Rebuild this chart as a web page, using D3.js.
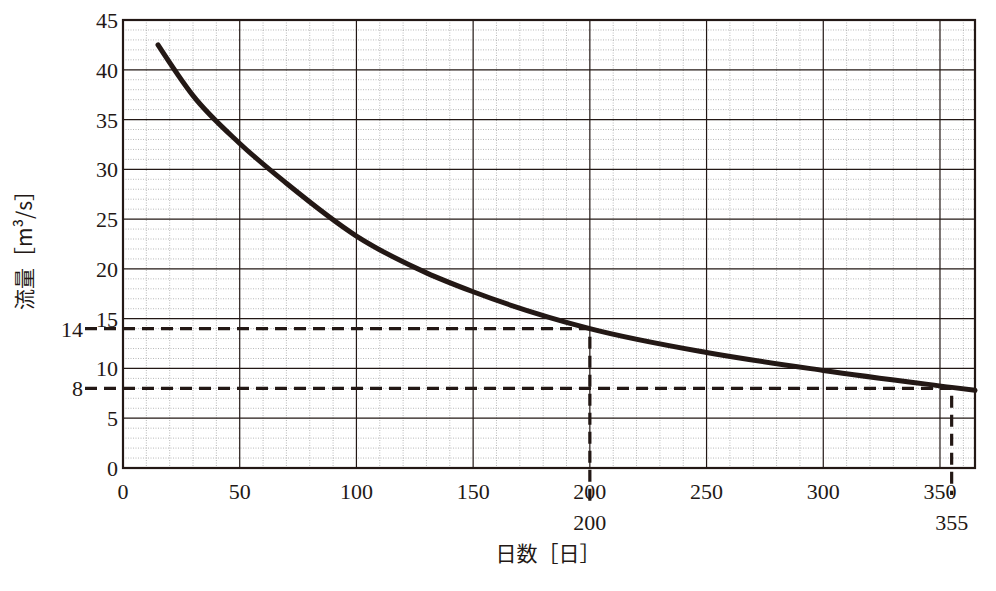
<!DOCTYPE html>
<html><head><meta charset="utf-8">
<script src="https://cdn.jsdelivr.net/npm/d3@7"></script>
<style>body{margin:0;background:#fff}</style>
</head><body><div id="chart-area"></div>
<script>
// flow duration curve
var days = [15, 30, 50, 70, 100, 130, 150, 200, 250, 300, 355, 365];
var flows = [42.5, 37.4, 32.6, 28.6, 23.3, 19.6, 17.7, 14.0, 11.6, 9.8, 8.1, 7.8];
var xTicks = [0, 50, 100, 150, 200, 250, 300, 350];
var yTicks = [0, 5, 10, 15, 20, 25, 30, 35, 40, 45];
var marks = [{day: 200, flow: 14}, {day: 355, flow: 8}];

var margin = { left:123, right:21, top:20, bottom:123 };
var width = 996 - margin.left - margin.right,
    height = 591 - margin.top - margin.bottom;
var ink = "#231815", serif = "'Liberation Serif', 'DejaVu Serif', serif";

var svg = d3.select("#chart-area").append("svg")
    .attr("width", 996).attr("height", 591);
var g = svg.append("g")
    .attr("transform", "translate(" + margin.left + "," + margin.top + ")");

var x = d3.scaleLinear().domain([0, 365]).range([0, width]);
var y = d3.scaleLinear().domain([0, 45]).range([height, 0]);

// minor grid
g.selectAll(".vx").data(d3.range(10, 365, 10).filter(d => d % 50))
  .join("line").attr("x1", d => x(d)).attr("x2", d => x(d))
  .attr("y1", 0).attr("y2", height)
  .attr("stroke", "#999").attr("stroke-width", 0.7).attr("stroke-dasharray", "1,1.5");
g.selectAll(".hy").data(d3.range(1, 45).filter(d => d % 5))
  .join("line").attr("y1", d => y(d)).attr("y2", d => y(d))
  .attr("x1", 0).attr("x2", width)
  .attr("stroke", "#999").attr("stroke-width", 0.7).attr("stroke-dasharray", "1,1.5");
// major grid
g.selectAll(".mx").data(xTicks.slice(1))
  .join("line").attr("x1", d => x(d)).attr("x2", d => x(d))
  .attr("y1", 0).attr("y2", height).attr("stroke", ink).attr("stroke-width", 1.2);
g.selectAll(".my").data(yTicks.slice(1, -1))
  .join("line").attr("y1", d => y(d)).attr("y2", d => y(d))
  .attr("x1", 0).attr("x2", width).attr("stroke", ink).attr("stroke-width", 1.2);
g.append("rect").attr("width", width).attr("height", height)
  .attr("fill", "none").attr("stroke", ink).attr("stroke-width", 2.2);

// tick labels
g.selectAll(".xl").data(xTicks).join("text")
  .attr("x", d => x(d)).attr("y", height + 31).attr("text-anchor", "middle")
  .attr("font-family", serif).attr("font-size", 22).attr("fill", ink).text(d => d);
g.selectAll(".yl").data(yTicks).join("text")
  .attr("x", -5).attr("y", d => y(d) + 8).attr("text-anchor", "end")
  .attr("font-family", serif).attr("font-size", 22).attr("fill", ink).text(d => d);

// dashed guides
marks.forEach(function(m) {
  g.append("path")
    .attr("d", "M" + (-38) + "," + y(m.flow) + "H" + x(m.day) + "V" + (height + (m.day == 200 ? 33 : 27)))
    .attr("fill", "none").attr("stroke", ink).attr("stroke-width", 3.2)
    .attr("stroke-dasharray", "12,7");
  g.append("text").attr("x", -40).attr("y", y(m.flow) + 8).attr("text-anchor", "end")
    .attr("font-family", serif).attr("font-size", 22).attr("fill", ink).text(m.flow);
  g.append("text").attr("x", x(m.day)).attr("y", height + 62).attr("text-anchor", "middle")
    .attr("font-family", serif).attr("font-size", 22).attr("fill", ink).text(m.day);
});

// curve
var pts = days.map((d, i) => [x(d), y(flows[i])]);
g.append("path").attr("d", d3.line().curve(d3.curveMonotoneX)(pts))
  .attr("fill", "none").attr("stroke", ink).attr("stroke-width", 5).attr("stroke-linecap", "round");

// axis titles
svg.append("text").attr("x", 548).attr("y", 561).attr("text-anchor", "middle")
  .attr("font-family", "'Noto Sans CJK JP'").attr("font-size", 21).attr("fill", ink)
  .text("日数［日］");
svg.append("text").attr("transform", "translate(32,245) rotate(-90)").attr("text-anchor", "middle")
  .attr("font-family", "'Noto Sans CJK JP'").attr("font-size", 21).attr("fill", ink)
  .text("流量［m³/s］");
</script></body></html>
